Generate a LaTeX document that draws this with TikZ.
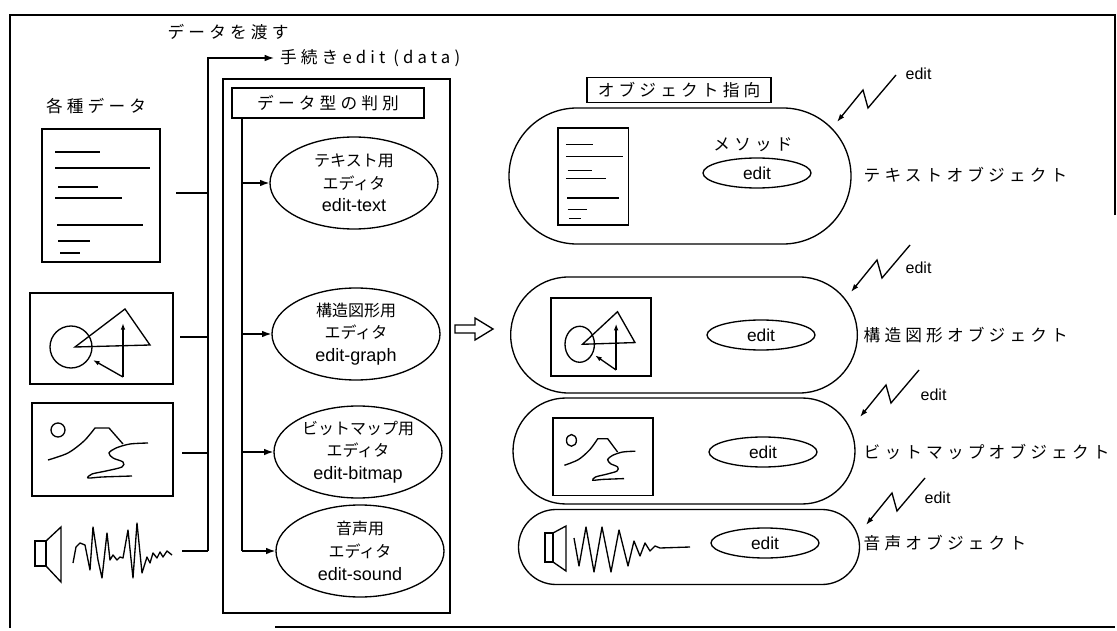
\documentclass[tikz,border=0pt]{standalone}
\usepackage{fontspec}
\setmainfont{Noto Sans CJK JP}
\newfontfamily\jpwide[LetterSpace=25]{Noto Sans CJK JP}
\newfontfamily\lat{Liberation Sans}
\usetikzlibrary{shapes.geometric,shapes.misc,arrows.meta}

\tikzset{
  frame/.style={line width=1.4pt},
  box/.style={draw, rectangle, inner sep=0pt, font=\jpwide\fontsize{12.5}{14}\selectfont},
  title/.style={inner sep=0.75pt, font=\jpwide\fontsize{12.5}{14}\selectfont},
  editor/.style={draw, ellipse, minimum width=126pt, minimum height=69pt, inner sep=0pt, align=center, font=\fontsize{12}{17}\selectfont},
  method/.style={draw, ellipse, minimum width=81pt, minimum height=22.5pt, inner sep=0pt, font=\lat\fontsize{13}{15}\selectfont},
  object/.style={draw, rounded rectangle, inner sep=0pt},
  tag/.style={anchor=west, inner sep=0.75pt, font=\lat\fontsize{12}{14}\selectfont},
  icontip/.style={-{Latex[length=5pt,width=3.5pt]}},
  zaptip/.style={-{Latex[length=6pt,width=4pt]}},
}

% latin line inside the editor ellipses
\newcommand{\edl}[1]{{\lat\fontsize{13.5}{17}\selectfont #1}}

% text page, local coordinates
\newcommand{\docpic}{%
  \draw (0,0) rectangle (118,133);
  \foreach \a/\b/\y in {13/58/23, 13/108/39, 16/56/58, 13/80/69, 15/101/96, 16/48/112, 18/38/124}
    \draw (\a,\y) -- (\b,\y);
}
% circle, triangle and arrows
\newcommand{\graphpic}{%
  \draw (0,0) rectangle (143,91);
  \draw (41,54) circle (21);
  \draw (45,54) -- (95,16) -- (120,52) -- cycle;
  \draw [icontip] (93,84) -- (93,30);
  \draw [icontip] (93,84) -- (63,67);
}
% sun, mountain and river
\newcommand{\mappic}{%
  \draw (0,0) rectangle (141,93);
  \draw (26,27) circle (7);
  \draw plot [smooth] coordinates {(16,57) (36,50) (52,38) (63,25)} -- (77,25) -- (91,41);
  \draw plot [smooth] coordinates {(116,40) (98,41) (84,45) (77,50) (81,55) (91,59) (90,64) (74,68) (60,71) (56,75) (70,74) (100,73)};
}

\begin{document}
\begin{tikzpicture}[x=0.75pt,y=0.75pt,yscale=-1,xscale=1, line width=1pt, >={Latex[length=7pt,width=5pt]}]
\useasboundingbox (0,0) rectangle (1117,631);

%Outer frame
\draw [frame] (1115,215) -- (1115,15) -- (10,15) -- (10,628) ;
\draw [frame] (275,627) -- (1115,627) ;

% Text Node
\node [title] (pass) at (228,32) {データを渡す};
% Text Node
\node [title, anchor=west, inner sep=4pt] (proc) at (274,58) {手続きedit (data)};
% Text Node
\node [title] (kinds) at (96,106) {各種データ};

%Data icons
\begin{scope}[shift={(42,129)}] \docpic \end{scope}
\begin{scope}[shift={(30,293)}] \graphpic \end{scope}
\begin{scope}[shift={(32,403)}] \mappic \end{scope}
%Speaker and sound wave
\draw (35,541) rectangle (46,566) ;
\draw (46,541) -- (61,527) -- (61,582) -- (46,566) ;
\draw [line join=round] plot coordinates {(73,563) (76,547) (80,543) (85,545) (90,570) (93,527) (98,560) (102,578) (107,533) (110,560) (113,555) (117,560) (120,557) (123,558) (128,530) (133,578) (137,523) (142,573) (147,557) (150,563) (153,553) (157,558) (160,552) (163,557) (167,551) (172,555)} ;

%Bus to the procedure
\coordinate (bustop) at (208,58);
\foreach \y/\x [count=\n] in {193/176, 337/180, 453/182, 551/182}{
  \coordinate (s\n) at (\x,\y);
  \coordinate (b\n) at (208,\y);
  \draw (s\n) -- (b\n);
}
\draw [->] (b4) -- (bustop) -- (proc.west) ;

%Type check box
\draw (223,79) rectangle (450,613) ;
\node [box, minimum width=144pt, minimum height=22.5pt] (judge) at (328,103) {データ型の判別};

%Editors
\node [editor] (edtext) at (354,183) {テキスト用\\エディタ\\\edl{edit-text}};
\node [editor] (edgraph) at (356,334) {構造図形用\\エディタ\\\edl{edit-graph}};
\node [editor] (edmap) at (358,452) {ビットマップ用\\エディタ\\\edl{edit-bitmap}};
\node [editor] (edsound) at (360,551) {音声用\\エディタ\\\edl{edit-sound}};

%Inner bus
\coordinate (i0) at (242,118);
\coordinate (i1) at (242,183);
\coordinate (i2) at (242,334);
\coordinate (i3) at (242,452);
\coordinate (i4) at (242,551);
\draw (i0) -- (i4) ;
\draw [->] (i1) -- (edtext) ;
\draw [->] (i2) -- (edgraph) ;
\draw [->] (i3) -- (edmap) ;
\draw [->] (i4) -- (edsound) ;

%Hollow arrow
\draw (455,325) -- (475,325) -- (475,318) -- (493,329) -- (475,340) -- (475,333) -- (455,333) -- cycle ;

%Objects
\node [box, minimum width=138pt, minimum height=18.75pt] (oop) at (679,90) {オブジェクト指向};
\node [object, minimum width=256.5pt, minimum height=102pt] (otext) at (680,176) {};
\node [object, minimum width=260pt, minimum height=87pt] (ograph) at (684,335) {};
\node [object, minimum width=256.5pt, minimum height=79.5pt] (omap) at (684,451) {};
\node [object, minimum width=255.75pt, minimum height=56.25pt] (osound) at (689,547) {};

\begin{scope}[shift={(558,128)}, xscale=0.6, yscale=0.73] \docpic \end{scope}
\begin{scope}[shift={(551,298)}, xscale=0.7, yscale=0.857] \graphpic \end{scope}
\begin{scope}[shift={(553,418)}, xscale=0.71, yscale=0.83] \mappic \end{scope}
\draw (545,533) rectangle (553,562) ;
\draw (553,533) -- (566,526) -- (566,571) -- (553,562) ;
\draw [line join=round] plot coordinates {(574,538) (579,566) (586,527) (594,572) (602,527) (611,572) (619,530) (628,566) (634,541) (640,556) (645,543) (650,551) (655,546) (660,548) (690,547)} ;

% Text Node
\node [title] (mlabel) at (753,145) {メソッド};
\node [method] (mtext) at (757,173) {edit};
\node [method] (mgraph) at (761,335) {edit};
\node [method] (mmap) at (763,452) {edit};
\node [method] (msound) at (765,543) {edit};

% Text Node
\node [title, anchor=west] (ltext) at (862,175) {テキストオブジェクト};
\node [title, anchor=west] (lgraph) at (862,335) {構造図形オブジェクト};
\node [title, anchor=west] (lmap) at (862,452) {ビットマップオブジェクト};
\node [title, anchor=west] (lsound) at (862,543) {音声オブジェクト};

%Messages
\foreach \tx/\ty/\lx/\ly [count=\n] in {837/122/904/74, 851/292/904/268, 860/417/919/395, 866/525/923/498}{
  \coordinate (zap\n) at (\tx,\ty);
  \draw [zaptip] (\tx+59,\ty-47) -- (\tx+31,\ty-14) -- (\tx+26,\ty-32) -- (zap\n);
  \node [tag] (zapl\n) at (\lx,\ly) {edit};
}
\end{tikzpicture}
\end{document}
